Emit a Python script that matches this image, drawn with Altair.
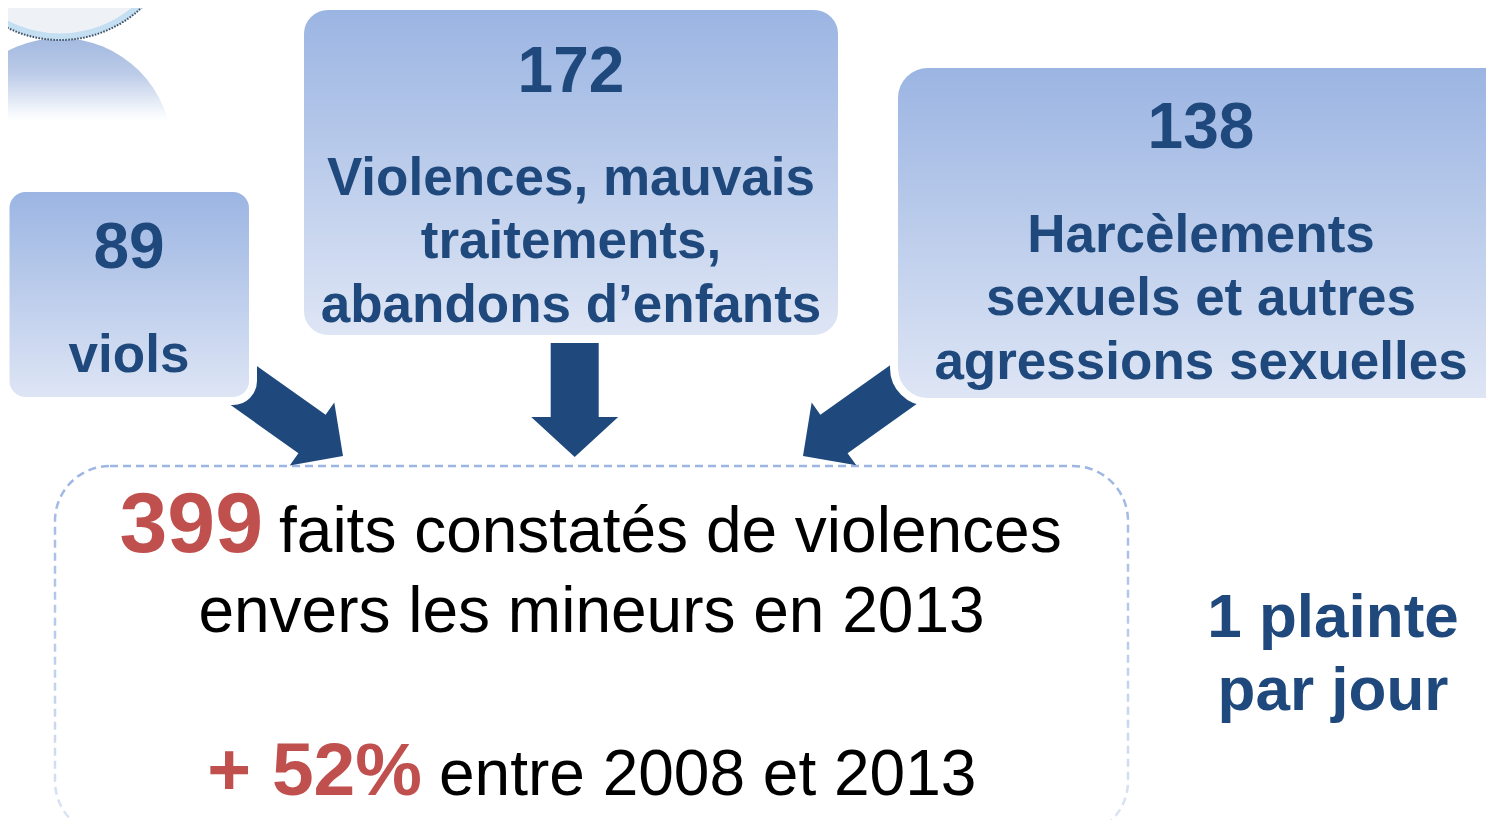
import math
import altair as alt
import pandas as pd

# ---------------- data ----------------
category_values = [89, 172, 138]
category_labels = [
    ["viols"],
    ["Violences, mauvais", "traitements,", "abandons d’enfants"],
    ["Harcèlements", "sexuels et autres", "agressions sexuelles"],
]
total_value = 399
total_lines = ["faits constatés de violences", "envers les mineurs en 2013"]
growth_label = "+ 52%"
growth_text = "entre 2008 et 2013"
rate_lines = ["1 plainte", "par jour"]

# --------------- layout (reference pixel frame) ---------------
W, H = 1478, 812
OX, OY = 8, 8
DARK = "#1f497d"
RED = "#c0504d"
FONT = "Liberation Sans"

xsc = alt.Scale(domain=[OX, OX + W], nice=False, zero=False)
ysc = alt.Scale(domain=[OY, OY + H], nice=False, zero=False, reverse=True)


def X(f="x"):
    return alt.X(f + ":Q", scale=xsc, axis=None)


def Y(f="y"):
    return alt.Y(f + ":Q", scale=ysc, axis=None)


def grad(stops):
    return alt.LinearGradient(
        gradient="linear", x1=0, x2=0, y1=0, y2=1,
        stops=[alt.GradientStop(color=c, offset=o) for c, o in stops],
    )


box_grad = grad([("#9ab4e2", 0), ("#dfe6f5", 1)])

# box frames: left, top, right, bottom, corner radius, centre x, number baseline, first label baseline
box_frames = [
    (9.5, 192, 249, 397, 16, 129, 268, 372),
    (304, 10, 838, 335, 24, 571, 92, 195),
    (898, 68, 1530, 398, 30, 1201, 148, 252),
]
LINE_STEP = 63.3

# arrows: tail, tip, shaft half width, head half width, head length
arrow_frames = [
    ((225.2, 372.4), (343, 456), 23.5, 38.5, 38),
    ((574.7, 330), (574.7, 457), 24, 43.5, 40),
    ((921.3, 371.9), (803, 456), 23.5, 38.5, 38),
]

layers = []

# decorative glass disc + reflection (top-left)
refl = pd.DataFrame({"x": [60], "y": [150]})
layers.append(
    alt.Chart(refl).mark_point(
        shape="circle", filled=True, size=(2 * 112) ** 2, opacity=1, strokeWidth=0, clip=True,
        fill=grad([("#a3b9e0", 0), ("#bccbe8", 0.16), ("#f4f7fc", 0.33), ("#ffffff", 0.37), ("#ffffff", 1)]),
    ).encode(x=X(), y=Y())
)
disc = pd.DataFrame({"x": [60], "y": [-79]})
layers.append(
    alt.Chart(disc).mark_point(
        shape="circle", filled=True, size=(2 * 116) ** 2, opacity=1, clip=True,
        fill="#eef2f7", stroke="#c4def2", strokeWidth=7,
    ).encode(x=X(), y=Y())
)
layers.append(
    alt.Chart(disc).mark_point(
        shape="circle", filled=False, size=(2 * 119) ** 2, opacity=1, clip=True,
        stroke="#3c4c5e", strokeWidth=2, strokeDash=[1.5, 1.5],
    ).encode(x=X(), y=Y())
)

# dashed summary frame
frame = pd.DataFrame({"x": [55], "x2": [1128], "y": [466], "y2": [836]})
layers.append(
    alt.Chart(frame).mark_rect(
        cornerRadius=55, fillOpacity=0, fill="white", clip=True,
        stroke=grad([("#9cb5e3", 0), ("#dde6f5", 1)]), strokeWidth=2.5, strokeDash=[8, 5],
    ).encode(x=X(), x2=alt.X2("x2:Q"), y=Y(), y2=alt.Y2("y2:Q"))
)

# arrows (drawn under the boxes so the boxes' white rim cuts them)
for (tx, ty), (px, py), s, w, hl in arrow_frames:
    dx, dy = px - tx, py - ty
    length = math.hypot(dx, dy)
    h = length / 2
    pts = [(-s, -h), (s, -h), (s, h - hl), (w, h - hl), (0, h), (-w, h - hl), (-s, h - hl)]
    path = "M" + "L".join(f"{a / h:.4f},{b / h:.4f}" for a, b in pts) + "Z"
    ang = math.degrees(math.atan2(-dx, dy)) % 360
    adf = pd.DataFrame({"x": [(tx + px) / 2], "y": [(ty + py) / 2]})
    layers.append(
        alt.Chart(adf).mark_point(
            shape=path, size=(2 * h) ** 2, angle=ang, filled=True, fill=DARK,
            opacity=1, strokeWidth=0, clip=True,
        ).encode(x=X(), y=Y())
    )

# category boxes
for (l, t, r, b, cr, cx, nb, lb) in box_frames:
    bdf = pd.DataFrame({"x": [l - 4], "x2": [r + 4], "y": [t - 4], "y2": [b + 4]})
    layers.append(
        alt.Chart(bdf).mark_rect(
            cornerRadius=cr + 4, fill=box_grad, stroke="white", strokeWidth=8, clip=True,
        ).encode(x=X(), x2=alt.X2("x2:Q"), y=Y(), y2=alt.Y2("y2:Q"))
    )


def text_layer(rows, size, color, weight, align="center"):
    df = pd.DataFrame(rows, columns=["x", "y", "t"])
    return alt.Chart(df).mark_text(
        font=FONT, fontSize=size, fontWeight=weight, color=color,
        align=align, baseline="alphabetic",
    ).encode(x=X(), y=Y(), text="t:N")


num_rows, lab_rows = [], []
for val, lines, (l, t, r, b, cr, cx, nb, lb) in zip(category_values, category_labels, box_frames):
    num_rows.append((cx, nb, str(val)))
    for k, line in enumerate(lines):
        lab_rows.append((cx, lb + k * LINE_STEP, line))

layers.append(text_layer(num_rows, 64, DARK, "bold"))
layers.append(text_layer(lab_rows, 53, DARK, "bold"))

# summary texts
layers.append(text_layer([(263, 552, str(total_value))], 86, RED, "bold", "right"))
layers.append(text_layer([(279, 552, total_lines[0])], 64, "#000000", "normal", "left"))
layers.append(text_layer([(591.5, 632, total_lines[1])], 64, "#000000", "normal", "center"))
layers.append(text_layer([(422, 795, growth_label)], 75, RED, "bold", "right"))
layers.append(text_layer([(439, 795, growth_text)], 64, "#000000", "normal", "left"))

# side note
layers.append(text_layer([(1333, 637, rate_lines[0]), (1333, 710, rate_lines[1])], 62, DARK, "bold"))

chart = (
    alt.layer(*layers)
    .properties(width=W, height=H, padding=0, autosize=alt.AutoSizeParams(type="none"), background="white")
    .configure_view(strokeWidth=0)
)

chart.save("out.html", embed_options={"renderer": "svg", "actions": False})
